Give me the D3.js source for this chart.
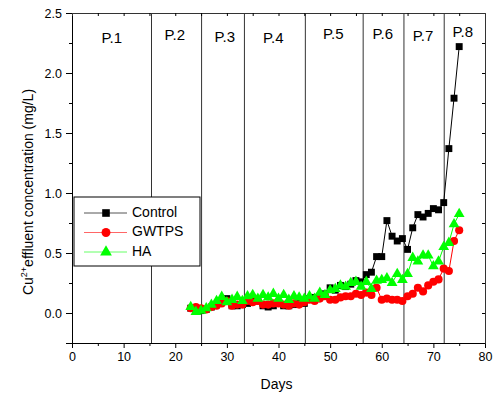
<!DOCTYPE html>
<html>
<head>
<meta charset="utf-8">
<script src="https://cdn.jsdelivr.net/npm/d3@7"></script>
<style>
  body { margin: 0; background: #fff; }
  svg { font-family: Arial, "Liberation Sans", sans-serif; }
</style>
</head>
<body>
<svg id="chart" width="494" height="396"></svg>
<script>
const days = d3.range(23, 76);

const control = [0.04, 0.03, 0.02, 0.03, 0.05, 0.07, 0.10, 0.12, 0.06, 0.06,
  0.07, 0.08, 0.10, 0.10, 0.06, 0.05, 0.06, 0.08, 0.06, 0.06,
  0.07, 0.09, 0.08, 0.12, 0.13, 0.14, 0.16, 0.21, 0.19, 0.23,
  0.22, 0.24, 0.27, 0.26, 0.32, 0.34, 0.47, 0.47, 0.77, 0.64,
  0.60, 0.62, 0.53, 0.71, 0.82, 0.80, 0.83, 0.87, 0.86, 0.92,
  1.37, 1.79, 2.22];

const gwtps = [0.04, 0.05, 0.04, 0.03, 0.05, 0.06, 0.08, 0.10, 0.06, 0.07,
  0.07, 0.10, 0.09, 0.10, 0.07, 0.07, 0.08, 0.08, 0.07, 0.06,
  0.08, 0.07, 0.09, 0.11, 0.10, 0.12, 0.14, 0.11, 0.11, 0.13,
  0.14, 0.14, 0.16, 0.15, 0.17, 0.15, 0.21, 0.11, 0.12, 0.11,
  0.11, 0.10, 0.14, 0.16, 0.21, 0.18, 0.23, 0.26, 0.28, 0.37,
  0.35, 0.60, 0.69];

const ha = [0.05, 0.01, 0.02, 0.04, 0.07, 0.10, 0.135, 0.09, 0.11, 0.135,
  0.10, 0.14, 0.15, 0.12, 0.15, 0.13, 0.16, 0.12, 0.15, 0.11,
  0.14, 0.13, 0.12, 0.14, 0.12, 0.17, 0.15, 0.19, 0.20, 0.23,
  0.22, 0.25, 0.26, 0.22, 0.26, 0.20, 0.27, 0.275, 0.29, 0.25,
  0.325, 0.275, 0.325, 0.46, 0.43, 0.48, 0.48, 0.39, 0.43, 0.55,
  0.585, 0.74, 0.825];

const periodBounds = [15.4, 25.1, 33.4, 45.2, 56.4, 64.3, 72.1];
const periodLabels = ['P.1', 'P.2', 'P.3', 'P.4', 'P.5', 'P.6', 'P.7', 'P.8'];
const periodLabelX = [7.7, 19.9, 29.6, 39.0, 50.6, 60.2, 68.0, 75.7];
const periodLabelY = [2.28, 2.31, 2.29, 2.28, 2.32, 2.32, 2.30, 2.33];

const xTicks = [0, 10, 20, 30, 40, 50, 60, 70, 80];
const yTicks = [0.0, 0.5, 1.0, 1.5, 2.0, 2.5];

const series = [
  { name: 'Control', values: control, color: '#000000', symbol: d3.symbolSquare, size: 48 },
  { name: 'GWTPS', values: gwtps, color: '#ff0000', symbol: d3.symbolCircle, size: 52 },
  { name: 'HA', values: ha, color: '#00ff00', symbol: d3.symbolTriangle, size: 50 }
];

const svg = d3.select('#chart');
const margin = { top: 13, right: 9, bottom: 53, left: 72 };
const width = 494 - margin.left - margin.right;
const height = 396 - margin.top - margin.bottom;

const g = svg.append('g')
  .attr('transform', `translate(${margin.left},${margin.top})`);

const x = d3.scaleLinear().domain([0, 80]).range([0, width]);
const y = d3.scaleLinear().domain([-0.25, 2.5]).range([height, 0]);

// period dividers
g.selectAll('.period')
  .data(periodBounds)
  .enter()
  .append('line')
  .attr('x1', (d) => x(d))
  .attr('x2', (d) => x(d))
  .attr('y1', 0)
  .attr('y2', height)
  .attr('stroke', '#333')
  .attr('stroke-width', 1);

g.selectAll('.plabel')
  .data(periodLabels)
  .enter()
  .append('text')
  .attr('x', (d, i) => x(periodLabelX[i]))
  .attr('y', (d, i) => y(periodLabelY[i]))
  .attr('text-anchor', 'middle')
  .attr('dominant-baseline', 'middle')
  .style('font-size', '15px')
  .text((d) => d);

// series
series.forEach((s) => {
  const pts = days.map((d, i) => ({ x: d, y: s.values[i] }));
  g.append('path')
    .datum(pts)
    .attr('fill', 'none')
    .attr('stroke', s.color)
    .attr('stroke-width', 1)
    .attr('d', d3.line().x((d) => x(d.x)).y((d) => y(d.y)));
});
series.forEach((s) => {
  const pts = days.map((d, i) => ({ x: d, y: s.values[i] }));
  g.selectAll(null)
    .data(pts)
    .enter()
    .append('path')
    .attr('transform', (d) => `translate(${x(d.x)},${y(d.y)})`)
    .attr('d', d3.symbol().type(s.symbol).size(s.size))
    .attr('fill', s.color);
});

// axes
const xAxis = g.append('g').attr('transform', `translate(0,${height})`)
  .call(d3.axisBottom(x).tickValues(xTicks).tickFormat(d3.format('d')).tickSize(5).tickPadding(4));
g.append('g').attr('transform', `translate(0,${height})`)
  .call(d3.axisBottom(x).tickValues(d3.range(5, 80, 10)).tickFormat('').tickSize(3))
  .select('.domain').remove();

const yAxis = g.append('g')
  .call(d3.axisLeft(y).tickValues(yTicks).tickFormat(d3.format('.1f')).tickSize(6).tickPadding(4));
g.append('g')
  .call(d3.axisLeft(y).tickValues([-0.25, 0.25, 0.75, 1.25, 1.75, 2.25]).tickFormat('').tickSize(3))
  .select('.domain').remove();

g.append('g')
  .call(d3.axisTop(x).tickValues(d3.range(5, 80, 5)).tickFormat('').tickSize(-3))
  .select('.domain').attr('stroke', '#333');
g.append('g').attr('transform', `translate(${width},0)`)
  .call(d3.axisRight(y).tickValues(d3.range(-0.25, 2.5, 0.25)).tickFormat('').tickSize(-3))
  .select('.domain').attr('stroke', '#333');

[xAxis, yAxis].forEach((a) => {
  a.selectAll('text').style('font-size', '12.5px').attr('fill', '#000');
  a.select('.domain').attr('stroke', '#000');
});
g.selectAll('.tick line').attr('stroke', '#000');

// axis titles
svg.append('text')
  .attr('x', margin.left + width / 2 - 2)
  .attr('y', 389)
  .attr('text-anchor', 'middle')
  .style('font-size', '14px')
  .text('Days');

const yt = svg.append('text')
  .attr('transform', 'translate(33,192) rotate(-90)')
  .attr('text-anchor', 'middle')
  .style('font-size', '14px');
yt.append('tspan').text('Cu');
yt.append('tspan').attr('dy', -6).style('font-size', '9px').text('2+');
yt.append('tspan').attr('dy', 6).text('effluent concentration (mg/L)');

// legend
const lg = svg.append('g').attr('transform', 'translate(74,197)');
lg.append('rect')
  .attr('width', 126)
  .attr('height', 69)
  .attr('fill', '#fff')
  .attr('stroke', '#000')
  .attr('stroke-width', 1);

const legendColors = ['#555555', '#ff6666', '#66ff66'];
series.forEach((s, i) => {
  const row = lg.append('g').attr('transform', `translate(0,${16 + i * 19.5})`);
  row.append('line')
    .attr('x1', 10).attr('x2', 53)
    .attr('stroke', legendColors[i])
    .attr('stroke-width', 1);
  row.append('path')
    .attr('transform', 'translate(32,0)')
    .attr('d', d3.symbol().type(s.symbol).size(s.size + 10))
    .attr('fill', s.color);
  row.append('text')
    .attr('x', 58)
    .attr('y', 0)
    .attr('dominant-baseline', 'middle')
    .style('font-size', '14px')
    .text(s.name);
});
</script>
</body>
</html>
